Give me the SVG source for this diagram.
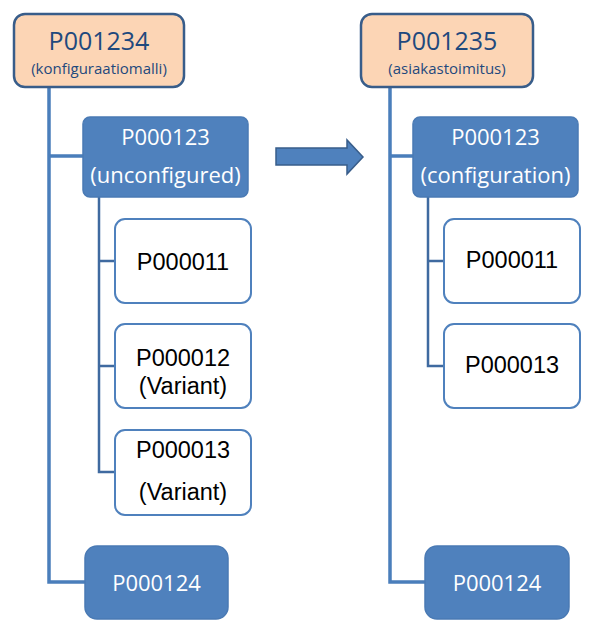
<svg xmlns="http://www.w3.org/2000/svg" width="598" height="636" viewBox="0 0 598 636">
<style>
.top{fill:#fcd5b5;stroke:#385d8a;stroke-width:2.5}
.blue{fill:#4f81bd;stroke:#4a7ab4;stroke-width:1.5}
.white{fill:#ffffff;stroke:#4f81bd;stroke-width:2}
.main{fill:none;stroke:#4a7ebb;stroke-width:3.5}
.sub{fill:none;stroke:#3f6aa0;stroke-width:2.5}
text{font-family:"Open Sans","Liberation Sans",sans-serif;text-anchor:middle}
.tt{fill:#1f497d;font-size:25px}
.ts{fill:#1f497d;font-size:15px}
.wt{fill:#ffffff;font-size:22px}
.bt{fill:#000000;font-family:"Liberation Sans",Arial,sans-serif;font-size:23.5px}
</style>
<g id="connectors">
<path class="main" d="M49,87 V582 H85 M49,156 H83"/>
<path class="sub" d="M99,197 V472 H115 M99,261 H115 M99,366 H115"/>
<path class="main" d="M390,87 V582 H425 M390,156 H413"/>
<path class="sub" d="M428,197 V366 H444 M428,261 H444"/>
<path d="M276,148 H347 V140 L363,157 L347,174 V165 H276 Z" fill="#4f81bd" stroke="#385d8a" stroke-width="1.5"/>
</g>
<g id="n_P001234">
<rect class="top" x="14" y="14" width="170" height="73" rx="11"/>
<text class="tt" x="99" y="50">P001234</text>
<text class="ts" x="99" y="74">(konfiguraatiomalli)</text>
</g>
<g id="n_P000123_left">
<rect class="blue" x="83" y="117" width="165" height="80" rx="7"/>
<text class="wt" x="165.5" y="145">P000123</text>
<text class="wt" x="165.5" y="183">(unconfigured)</text>
</g>
<g id="n_P000011_left">
<rect class="white" x="115" y="219" width="136" height="84" rx="10"/>
<text class="bt" x="183" y="270">P000011</text>
</g>
<g id="n_P000012_left">
<rect class="white" x="115" y="324" width="136" height="84" rx="10"/>
<text class="bt" x="183" y="366">P000012</text>
<text class="bt" x="183" y="394">(Variant)</text>
</g>
<g id="n_P000013_left">
<rect class="white" x="115" y="430" width="136" height="85" rx="10"/>
<text class="bt" x="183" y="458">P000013</text>
<text class="bt" x="183" y="500">(Variant)</text>
</g>
<g id="n_P000124_left">
<rect class="blue" x="85" y="546" width="143" height="73" rx="12"/>
<text class="wt" x="156.5" y="591">P000124</text>
</g>
<g id="n_P001235">
<rect class="top" x="361" y="14" width="172" height="73" rx="11"/>
<text class="tt" x="447" y="50">P001235</text>
<text class="ts" x="447" y="74">(asiakastoimitus)</text>
</g>
<g id="n_P000123_right">
<rect class="blue" x="413" y="117" width="165" height="80" rx="7"/>
<text class="wt" x="495.5" y="145">P000123</text>
<text class="wt" x="495.5" y="183">(configuration)</text>
</g>
<g id="n_P000011_right">
<rect class="white" x="444" y="219" width="136" height="84" rx="10"/>
<text class="bt" x="512" y="268">P000011</text>
</g>
<g id="n_P000013_right">
<rect class="white" x="444" y="324" width="136" height="84" rx="10"/>
<text class="bt" x="512" y="373">P000013</text>
</g>
<g id="n_P000124_right">
<rect class="blue" x="425" y="546" width="144" height="73" rx="12"/>
<text class="wt" x="497" y="591">P000124</text>
</g>
</svg>
